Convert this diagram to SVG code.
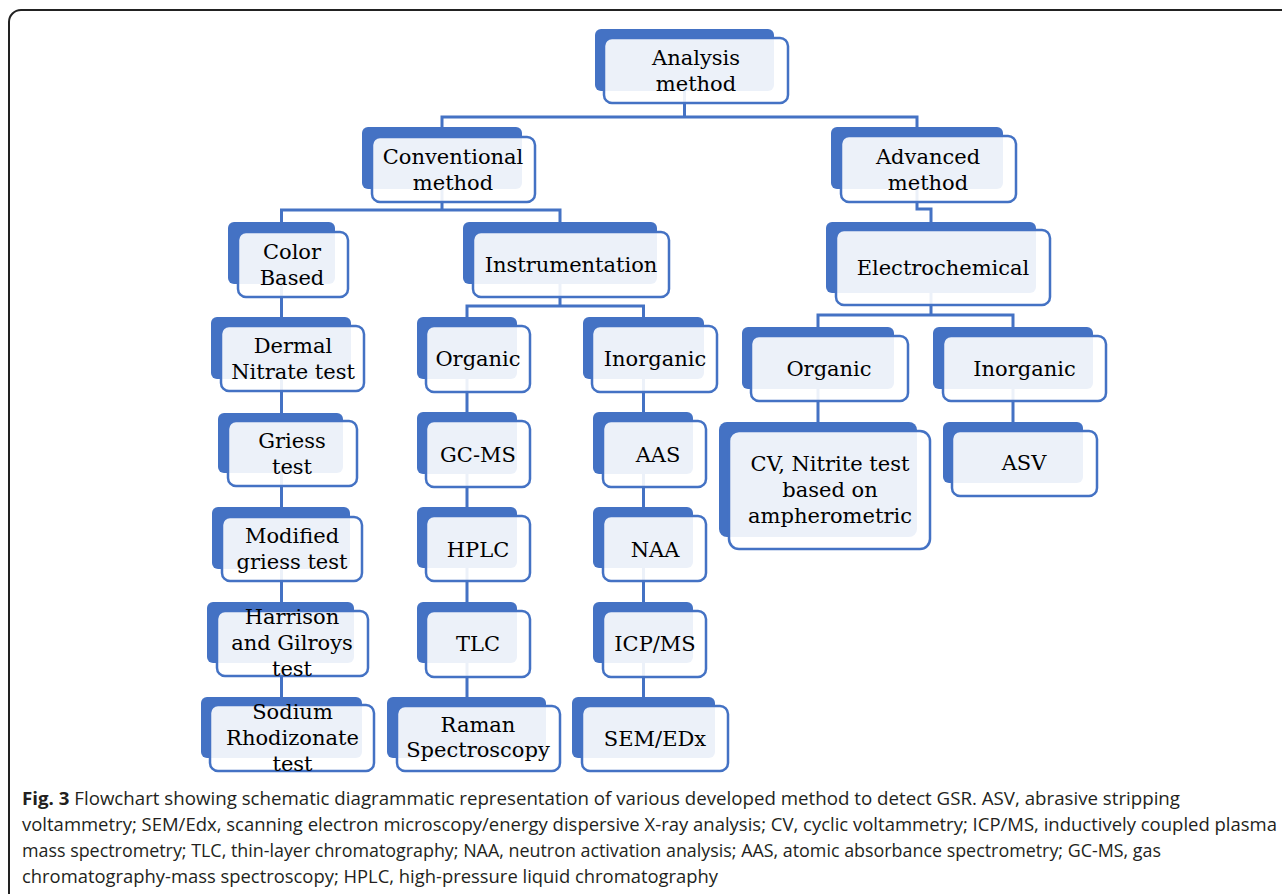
<svg xmlns="http://www.w3.org/2000/svg" width="1282" height="894" viewBox="0 0 1282 894">
<style>
.bk{fill:#4472C4}
.fr{fill:#ffffff;fill-opacity:0.9;stroke:#4472C4;stroke-width:2.5}
.t{font-family:"DejaVu Serif","Liberation Serif",serif;font-size:21px;fill:#000;text-anchor:middle}
.c{font-family:"Open Sans","Noto Sans","Liberation Sans",sans-serif;font-size:18.4px;fill:#231f20}
.ln{fill:none;stroke:#4472C4;stroke-width:3}
</style>
<rect x="9" y="10" width="1300" height="910" rx="12" fill="#fff" stroke="#222" stroke-width="2"/>
<g id="connectors" class="ln">
<path d="M684.5 91V117M442 127V117H917V127"/>
<path d="M442 189V210M281.5 222V210H560V222"/>
<path d="M917 189V209H931V222"/>
<path d="M281.5 284V317M281.5 379V413M281.5 473V507M281.5 569V602M281.5 663V697"/>
<path d="M560 284V306M467 317V306H643.5V317"/>
<path d="M467 379V412M467 474V507M467 568V602M467 663V697"/>
<path d="M643.5 379V412M643.5 474V507M643.5 568V602M643.5 663V697"/>
<path d="M931 293V315M818 327V315H1013V327"/>
<path d="M818 389V422M1013 389V422"/>
</g>
<g id="n-analysis"><rect class="bk" x="595" y="29" width="179" height="62" rx="6"/><rect class="fr" x="604" y="38" width="184" height="65" rx="8"/><text class="t" x="696" y="65">Analysis</text><text class="t" x="696" y="91">method</text></g>
<g id="n-conventional"><rect class="bk" x="362" y="127" width="160" height="62" rx="6"/><rect class="fr" x="372" y="137" width="163" height="65" rx="8"/><text class="t" x="453" y="164">Conventional</text><text class="t" x="453" y="190">method</text></g>
<g id="n-advanced"><rect class="bk" x="831" y="127" width="172" height="62" rx="6"/><rect class="fr" x="841" y="136" width="175" height="66" rx="8"/><text class="t" x="928" y="164">Advanced</text><text class="t" x="928" y="190">method</text></g>
<g id="n-color"><rect class="bk" x="228" y="222" width="107" height="62" rx="6"/><rect class="fr" x="238" y="232" width="110" height="65" rx="8"/><text class="t" x="292" y="259">Color</text><text class="t" x="292" y="285">Based</text></g>
<g id="n-instrumentation"><rect class="bk" x="463" y="222" width="194" height="62" rx="6"/><rect class="fr" x="473" y="232" width="196" height="65" rx="8"/><text class="t" x="571" y="272">Instrumentation</text></g>
<g id="n-electrochemical"><rect class="bk" x="826" y="222" width="210" height="71" rx="6"/><rect class="fr" x="836" y="230" width="214" height="75" rx="8"/><text class="t" x="943" y="275">Electrochemical</text></g>
<g id="n-dermal"><rect class="bk" x="211" y="317" width="140" height="62" rx="6"/><rect class="fr" x="221" y="326" width="143" height="65" rx="8"/><text class="t" x="293" y="353">Dermal</text><text class="t" x="293" y="379">Nitrate test</text></g>
<g id="n-griess"><rect class="bk" x="218" y="413" width="125" height="60" rx="6"/><rect class="fr" x="228" y="421" width="129" height="65" rx="8"/><text class="t" x="292" y="448">Griess</text><text class="t" x="292" y="474">test</text></g>
<g id="n-modified"><rect class="bk" x="212" y="507" width="138" height="62" rx="6"/><rect class="fr" x="222" y="517" width="140" height="64" rx="8"/><text class="t" x="292" y="543">Modified</text><text class="t" x="292" y="569">griess test</text></g>
<g id="n-harrison"><rect class="bk" x="207" y="602" width="147" height="61" rx="6"/><rect class="fr" x="217" y="611" width="151" height="65" rx="8"/><text class="t" x="292" y="624">Harrison</text><text class="t" x="292" y="650">and Gilroys</text><text class="t" x="292" y="676">test</text></g>
<g id="n-sodium"><rect class="bk" x="201" y="697" width="161" height="61" rx="6"/><rect class="fr" x="210" y="705" width="164" height="66" rx="8"/><text class="t" x="292.5" y="719">Sodium</text><text class="t" x="292.5" y="745">Rhodizonate</text><text class="t" x="292.5" y="771">test</text></g>
<g id="n-organic1"><rect class="bk" x="417" y="317" width="100" height="62" rx="6"/><rect class="fr" x="426" y="326" width="104" height="66" rx="8"/><text class="t" x="478" y="366">Organic</text></g>
<g id="n-inorganic1"><rect class="bk" x="583" y="317" width="121" height="62" rx="6"/><rect class="fr" x="592" y="326" width="125" height="66" rx="8"/><text class="t" x="655" y="366">Inorganic</text></g>
<g id="n-gcms"><rect class="bk" x="417" y="412" width="100" height="62" rx="6"/><rect class="fr" x="426" y="421" width="104" height="66" rx="8"/><text class="t" x="478" y="462">GC-MS</text></g>
<g id="n-aas"><rect class="bk" x="593" y="412" width="100" height="62" rx="6"/><rect class="fr" x="603" y="421" width="103" height="66" rx="8"/><text class="t" x="658" y="462">AAS</text></g>
<g id="n-hplc"><rect class="bk" x="417" y="507" width="100" height="61" rx="6"/><rect class="fr" x="426" y="516" width="104" height="65" rx="8"/><text class="t" x="478" y="557">HPLC</text></g>
<g id="n-naa"><rect class="bk" x="593" y="507" width="100" height="61" rx="6"/><rect class="fr" x="603" y="516" width="103" height="65" rx="8"/><text class="t" x="655" y="557">NAA</text></g>
<g id="n-tlc"><rect class="bk" x="417" y="602" width="100" height="61" rx="6"/><rect class="fr" x="426" y="611" width="104" height="66" rx="8"/><text class="t" x="478" y="651">TLC</text></g>
<g id="n-icpms"><rect class="bk" x="593" y="602" width="100" height="61" rx="6"/><rect class="fr" x="603" y="611" width="103" height="66" rx="8"/><text class="t" x="655" y="651">ICP/MS</text></g>
<g id="n-raman"><rect class="bk" x="387" y="697" width="159" height="61" rx="6"/><rect class="fr" x="397" y="706" width="163" height="65" rx="8"/><text class="t" x="478" y="732">Raman</text><text class="t" x="478" y="757">Spectroscopy</text></g>
<g id="n-semedx"><rect class="bk" x="572" y="697" width="143" height="61" rx="6"/><rect class="fr" x="582" y="706" width="146" height="65" rx="8"/><text class="t" x="655" y="746">SEM/EDx</text></g>
<g id="n-organic2"><rect class="bk" x="742" y="327" width="152" height="62" rx="6"/><rect class="fr" x="751" y="336" width="157" height="65" rx="8"/><text class="t" x="829" y="376">Organic</text></g>
<g id="n-inorganic2"><rect class="bk" x="933" y="327" width="160" height="62" rx="6"/><rect class="fr" x="943" y="336" width="163" height="65" rx="8"/><text class="t" x="1024.5" y="376">Inorganic</text></g>
<g id="n-cv"><rect class="bk" x="719" y="422" width="198" height="115" rx="8"/><rect class="fr" x="729" y="431" width="201" height="118" rx="10"/><text class="t" x="830" y="471">CV, Nitrite test</text><text class="t" x="830" y="497">based on</text><text class="t" x="830" y="523">ampherometric</text></g>
<g id="n-asv"><rect class="bk" x="943" y="422" width="140" height="61" rx="6"/><rect class="fr" x="952" y="431" width="145" height="65" rx="8"/><text class="t" x="1024" y="470">ASV</text></g>
<g id="caption" class="c">
<text x="22" y="805" textLength="1158" lengthAdjust="spacingAndGlyphs"><tspan font-weight="bold">Fig. 3</tspan> Flowchart showing schematic diagrammatic representation of various developed method to detect GSR. ASV, abrasive stripping</text>
<text x="22" y="831" textLength="1255" lengthAdjust="spacingAndGlyphs">voltammetry; SEM/Edx, scanning electron microscopy/energy dispersive X-ray analysis; CV, cyclic voltammetry; ICP/MS, inductively coupled plasma</text>
<text x="22" y="857" textLength="1139" lengthAdjust="spacingAndGlyphs">mass spectrometry; TLC, thin-layer chromatography; NAA, neutron activation analysis; AAS, atomic absorbance spectrometry; GC-MS, gas</text>
<text x="22" y="883" textLength="696" lengthAdjust="spacingAndGlyphs">chromatography-mass spectroscopy; HPLC, high-pressure liquid chromatography</text>
</g>
</svg>
